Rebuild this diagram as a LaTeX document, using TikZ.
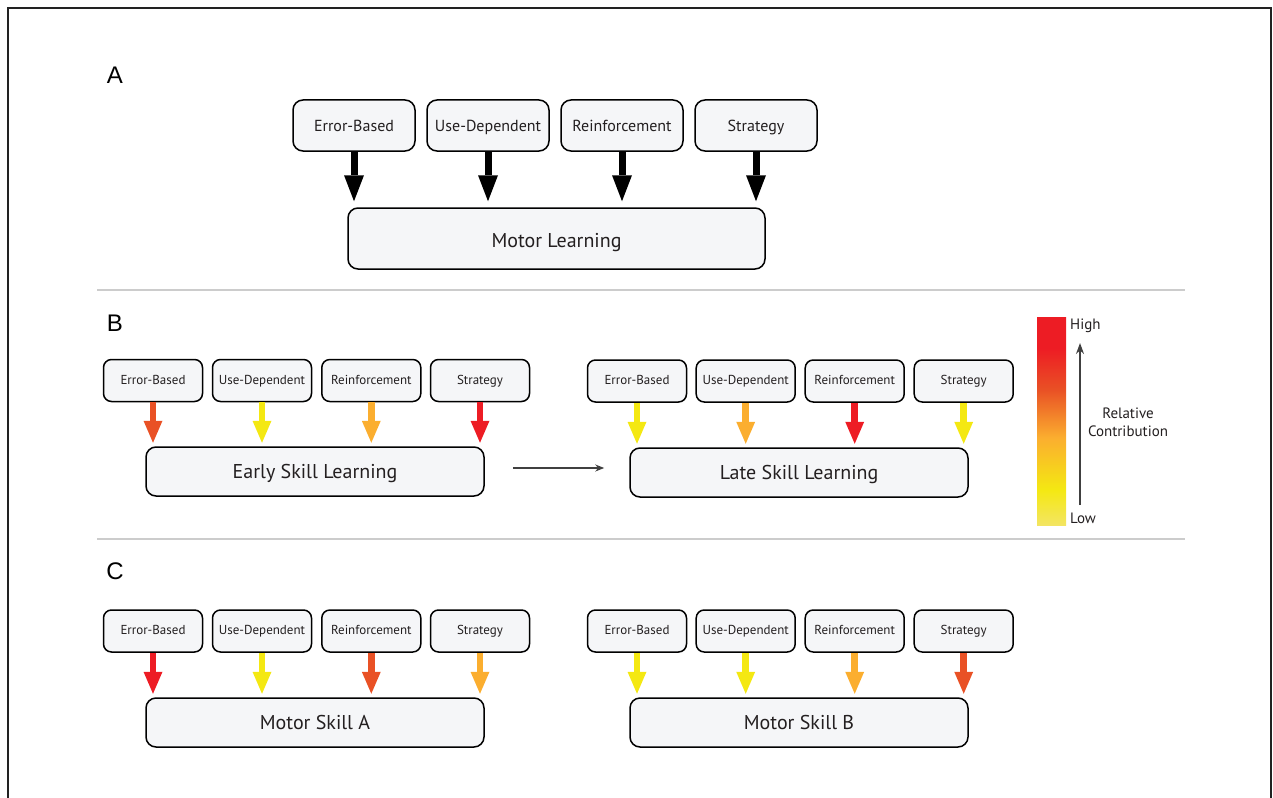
\documentclass[tikz,border=0pt]{standalone}
\usepackage{fontspec}
\setmainfont{PT Sans}
\newfontfamily\lblfont{Liberation Sans}
\usetikzlibrary{arrows.meta}
\definecolor{boxfill}{HTML}{F5F6F8}
\definecolor{txt}{HTML}{231F20}
\definecolor{cRed}{HTML}{ED1C24}
\definecolor{cOR}{HTML}{E95125}
\definecolor{cOr}{HTML}{FBAE2F}
\definecolor{cYel}{HTML}{F4E812}
\definecolor{cPale}{HTML}{F3E562}
\definecolor{sepgray}{HTML}{CCCCCC}
\definecolor{framegray}{HTML}{222222}
\definecolor{arrgray}{HTML}{404040}
\pgfdeclareverticalshading{cbar}{100bp}{color(0bp)=(cPale); color(25bp)=(cPale); color(33.5bp)=(cYel); color(46bp)=(cOr); color(57.5bp)=(cOR); color(67.5bp)=(cRed); color(75bp)=(cRed); color(100bp)=(cRed)}
\begin{document}
\begin{tikzpicture}[x=1pt,y=-1pt,
  boxbase/.style={draw=black, line width=1.5pt, fill=boxfill, text=txt, inner sep=0pt},
  topA/.style={boxbase, rounded corners=10pt, minimum width=122pt, minimum height=51pt, font=\fontsize{16}{18}\selectfont, text height=15pt, text depth=2.8pt},
  topB/.style={boxbase, rounded corners=8pt, minimum width=99pt, minimum height=42pt, font=\fontsize{13}{15}\selectfont, text height=9.8pt, text depth=2.8pt},
  bigbox/.style={boxbase, rounded corners=10pt, minimum width=338pt, minimum height=49pt, font=\fontsize{20}{24}\selectfont, text height=17pt, text depth=3pt},
  panellbl/.style={font=\lblfont\fontsize{24}{28}\selectfont, text=black, inner sep=0pt},
  blackarrow/.style={line width=7pt, draw=black, -{Triangle[width=20pt,length=26pt,line width=0pt]}, shorten >=6pt},
  colarrow/.style={line width=6.5pt, draw=#1, -{Triangle[width=19pt,length=22pt,line width=0pt]}, shorten >=3.5pt},
  sepline/.style={draw=sepgray, line width=1.5pt},
  scaletext/.style={font=\fontsize{15}{18}\selectfont, text=txt, inner sep=0pt}
]
\useasboundingbox (0,0) rectangle (1273,797);
% frame
\draw[framegray, line width=1.5pt] (8,800) -- (8,8) -- (1271,8) -- (1271,800);

% ---------- Panel A ----------
\node[panellbl] (lA) at (115,75) {A};
\node[topA] (a1) at (354,125.5) {Error-Based};
\node[topA] (a2) at (488,125.5) {Use-Dependent};
\node[topA] (a3) at (622,125.5) {Reinforcement};
\node[topA] (a4) at (756,125.5) {Strategy};
\node[bigbox, minimum width=417pt, minimum height=61pt, text height=20pt] (ml) at (556.5,238.5) {Motor Learning};
\foreach \n in {a1,a2,a3,a4}{
  \draw[blackarrow] (\n.south) -- (\n.south |- ml.north);
}

\draw[sepline] (97,290) coordinate (s1a) -- (1185,290) coordinate (s1b);

% ---------- Panel B ----------
\node[panellbl] (lB) at (115,323) {B};
\node[topB] (b1) at (153,380.5) {Error-Based};
\node[topB] (b2) at (262,380.5) {Use-Dependent};
\node[topB] (b3) at (371.3,380.5) {Reinforcement};
\node[topB] (b4) at (480,380.5) {Strategy};
\node[bigbox] (early) at (315,471.5) {Early Skill Learning};
\draw[colarrow=cOR] (b1.south) -- (b1.south |- early.north);
\draw[colarrow=cYel] (b2.south) -- (b2.south |- early.north);
\draw[colarrow=cOr] (b3.south) -- (b3.south |- early.north);
\draw[colarrow=cRed] (b4.south) -- (b4.south |- early.north);

\node[topB] (l1) at (637,381) {Error-Based};
\node[topB] (l2) at (745.7,381) {Use-Dependent};
\node[topB] (l3) at (854.7,381) {Reinforcement};
\node[topB] (l4) at (963.7,381) {Strategy};
\node[bigbox] (late) at (799,472.5) {Late Skill Learning};
\draw[colarrow=cYel] (l1.south) -- (l1.south |- late.north);
\draw[colarrow=cOr] (l2.south) -- (l2.south |- late.north);
\draw[colarrow=cRed] (l3.south) -- (l3.south |- late.north);
\draw[colarrow=cYel] (l4.south) -- (l4.south |- late.north);

\draw[arrgray, line width=1.3pt, -{Stealth[length=9pt,width=7pt]}, shorten <=28pt, shorten >=25pt] (early.east |- 0,468) -- (late.west |- 0,468);

% colour scale
\shade[shading=cbar] (1037,317) rectangle (1066,525);
\node[scaletext, anchor=west] (hi) at (1070,326) {High};
\node[scaletext, anchor=west] (lo) at (1070,518) {Low};
\coordinate (cbBot) at (1080,505);
\coordinate (cbTop) at (1080,343);
\draw[arrgray, line width=1.5pt, -{Stealth[length=11pt,width=8pt]}] (cbBot) -- (cbTop);
\node[scaletext, align=center] (rel) at (1128,422) {Relative\\Contribution};

\draw[sepline] (97,539) coordinate (s2a) -- (1185,539) coordinate (s2b);

% ---------- Panel C ----------
\node[panellbl] (lC) at (115,571) {C};
\node[topB] (c1) at (153,631) {Error-Based};
\node[topB] (c2) at (262,631) {Use-Dependent};
\node[topB] (c3) at (371.3,631) {Reinforcement};
\node[topB] (c4) at (480,631) {Strategy};
\node[bigbox] (msa) at (315,722.5) {Motor Skill A};
\draw[colarrow=cRed] (c1.south) -- (c1.south |- msa.north);
\draw[colarrow=cYel] (c2.south) -- (c2.south |- msa.north);
\draw[colarrow=cOR] (c3.south) -- (c3.south |- msa.north);
\draw[colarrow=cOr] (c4.south) -- (c4.south |- msa.north);

\node[topB] (d1) at (637,631) {Error-Based};
\node[topB] (d2) at (745.7,631) {Use-Dependent};
\node[topB] (d3) at (854.7,631) {Reinforcement};
\node[topB] (d4) at (963.7,631) {Strategy};
\node[bigbox] (msb) at (799,722.5) {Motor Skill B};
\draw[colarrow=cYel] (d1.south) -- (d1.south |- msb.north);
\draw[colarrow=cYel] (d2.south) -- (d2.south |- msb.north);
\draw[colarrow=cOr] (d3.south) -- (d3.south |- msb.north);
\draw[colarrow=cOR] (d4.south) -- (d4.south |- msb.north);
\end{tikzpicture}
\end{document}
